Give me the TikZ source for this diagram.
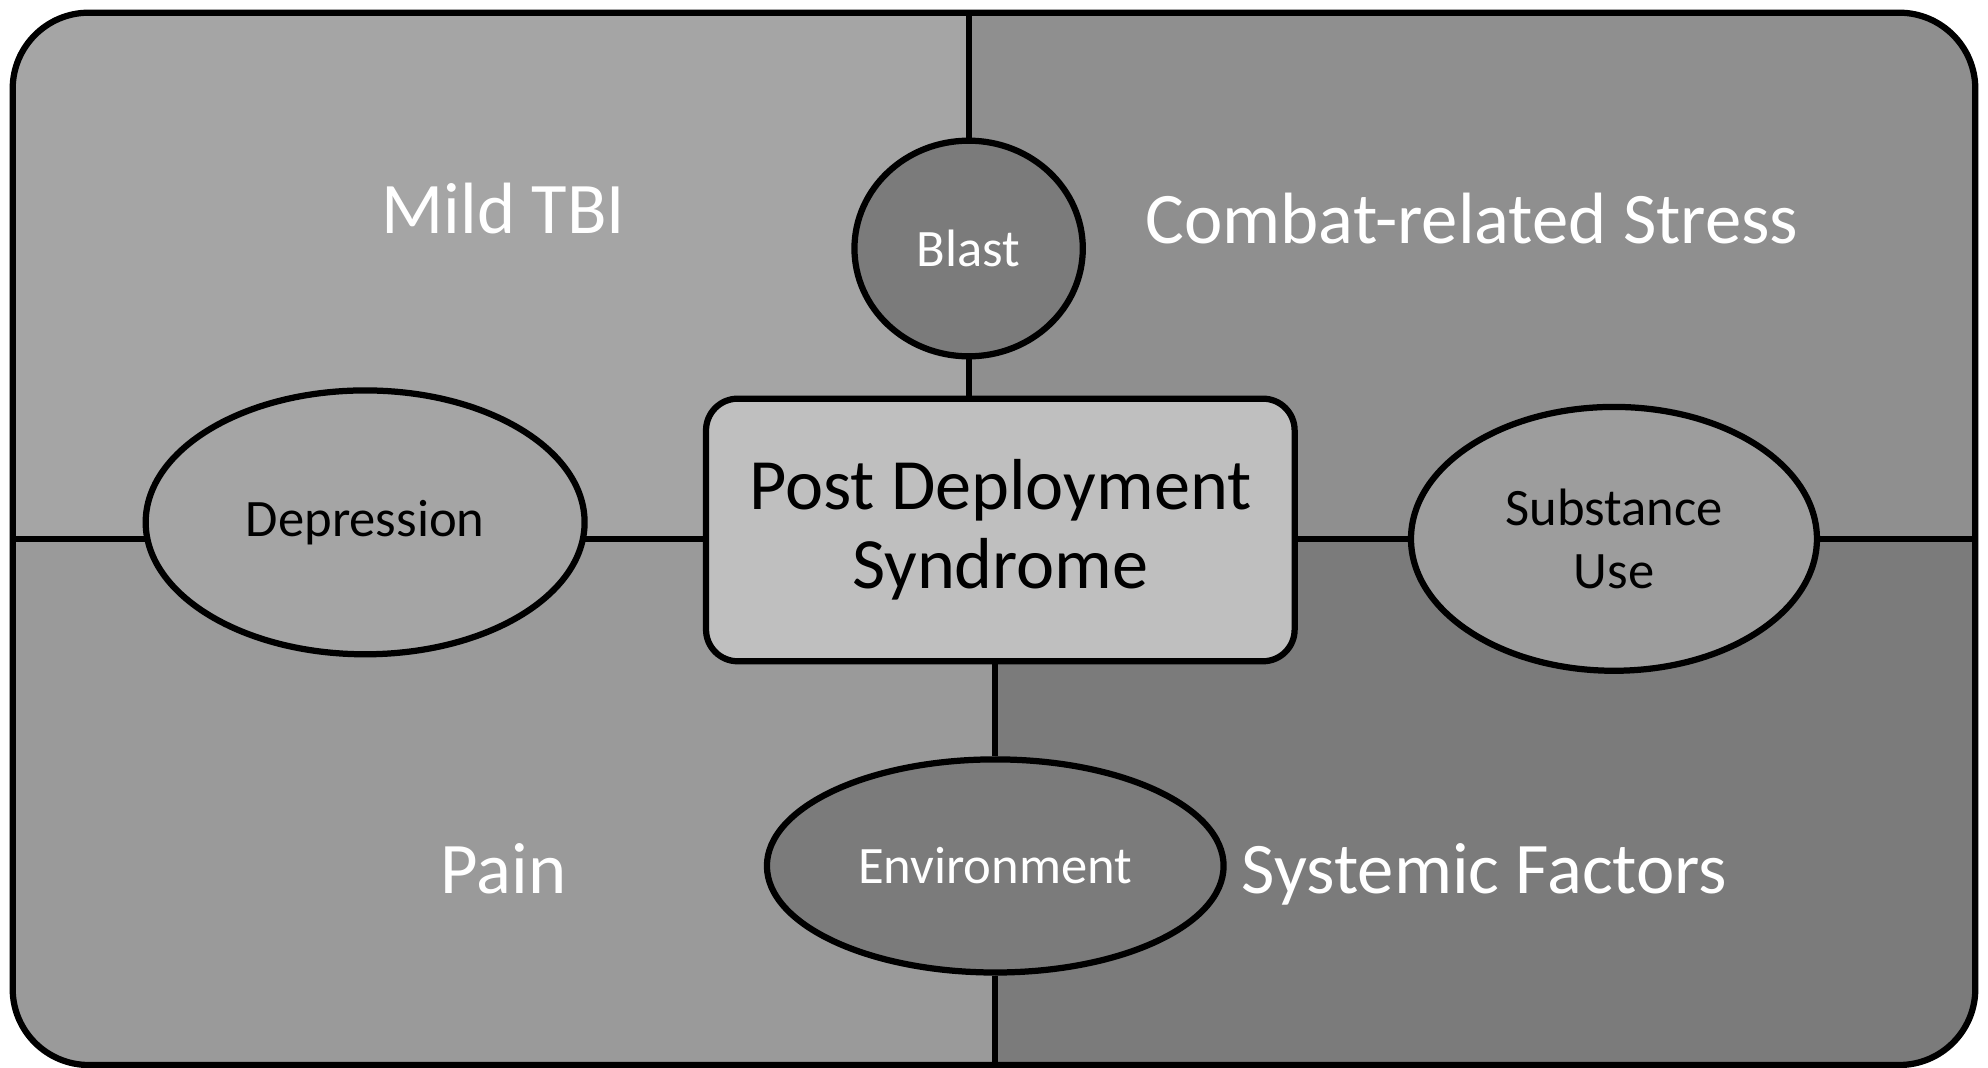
\documentclass[tikz,border=0pt]{standalone}
\usepackage{fontspec}
\setmainfont{Carlito}
\usetikzlibrary{shapes.geometric}
\pgfdeclarelayer{bg}
\pgfsetlayers{bg,main}
\definecolor{tlgray}{HTML}{A5A5A5}
\definecolor{trgray}{HTML}{8F8F8F}
\definecolor{blgray}{HTML}{9A9A9A}
\definecolor{brgray}{HTML}{7B7B7B}
\definecolor{boxgray}{HTML}{BFBFBF}
\begin{document}
\begin{tikzpicture}[x=0.01cm,y=-0.01cm,line width=1.4pt,
    divider/.style={draw,line width=1.4pt},
    oval/.style={draw,ellipse,inner sep=0pt,align=center,
      font=\fontsize{11.8}{14}\selectfont},
    area/.style={anchor=base,text=white,font=\fontsize{16.3}{19}\selectfont}]
  \useasboundingbox (0,0) rectangle (1568,842);

  \node (tbi) [area] at (397,184) {Mild TBI};
  \node (stress) [area] at (1161,192) {Combat-related Stress};
  \node (pain) [area] at (397,705) {Pain};
  \node (sys) [area] at (1171,705) {Systemic Factors};

  \node (pds) [draw,fill=boxgray,rounded corners=0.25cm,align=center,
    minimum width=4.64cm,minimum height=2.07cm,
    font=\fontsize{16.2}{17.8}\selectfont] at (789,418) {Post Deployment\\Syndrome};
  \node (blast) [oval,fill=brgray,text=white,minimum width=1.8cm,
    minimum height=1.7cm] at (764,196) {Blast};
  \node (dep) [oval,fill=tlgray,minimum width=3.46cm,
    minimum height=2.08cm] at (288,412) {Depression};
  \node (sub) [oval,fill=tlgray!95!black,minimum width=3.2cm,
    minimum height=2.08cm] at (1273,425) {Substance\\Use};
  \node (env) [oval,fill=brgray,text=white,minimum width=3.6cm,
    minimum height=1.68cm] at (785,683) {Environment};

  \coordinate (top) at (764,10);
  \coordinate (bot) at (785,840);
  \coordinate (lft) at (10,425);
  \coordinate (rgt) at (1558,425);

  \begin{pgfonlayer}{bg}
    \begin{scope}
      \clip [rounded corners=0.6cm] (10,10) rectangle (1558,840);
      \fill [tlgray] (10,10) rectangle (764,425);
      \fill [trgray] (764,10) rectangle (1558,425);
      \fill [blgray] (10,425) rectangle (785,840);
      \fill [brgray] (785,425) rectangle (1558,840);
    \end{scope}
    \path [divider] (top) -- (blast.north);
    \path [divider] (blast.south) -- (blast.south |- pds.north);
    \path [divider] (pds.south -| env) -- (env.north);
    \path [divider] (env.south) -- (bot);
    \path [divider] (lft) -- (lft -| pds.west);
    \path [divider] (rgt) -- (rgt -| pds.east);
  \end{pgfonlayer}

  \path [divider,rounded corners=0.6cm] (10,10) rectangle (1558,840);
\end{tikzpicture}
\end{document}
